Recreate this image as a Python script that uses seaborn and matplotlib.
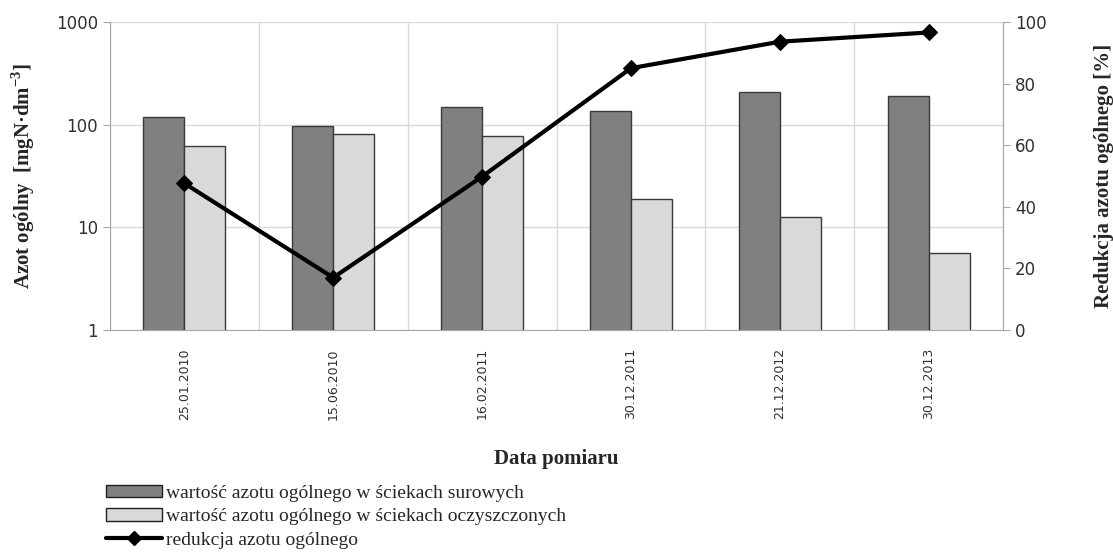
import numpy as np
import pandas as pd
import matplotlib
matplotlib.use("Agg")
import matplotlib.pyplot as plt
from matplotlib.patches import Patch
from matplotlib.lines import Line2D
import seaborn as sns

# Measurement dates
dates = ["25.01.2010", "15.06.2010", "16.02.2011", "30.12.2011", "21.12.2012", "30.12.2013"]
# Total nitrogen in raw sewage [mgN/dm3]
raw_n = [119, 98, 150, 135, 206, 192]
# Total nitrogen in treated sewage [mgN/dm3]
treated_n = [62, 82, 77, 19, 12.5, 5.6]
# Total nitrogen reduction [%]
reduction = [47.6, 17.0, 49.8, 85.0, 93.6, 96.6]

label_raw = "wartość azotu ogólnego w ściekach surowych"
label_treated = "wartość azotu ogólnego w ściekach oczyszczonych"
label_red = "redukcja azotu ogólnego"

sns.set_style("white")
plt.rcParams["font.family"] = ["DejaVu Sans"]

df = pd.DataFrame({
    "data": dates * 2,
    "azot": raw_n + treated_n,
    "seria": [label_raw] * len(dates) + [label_treated] * len(dates),
})

W, H = 1113, 560
fig = plt.figure(figsize=(W / 100, H / 100), dpi=100)
ax = fig.add_axes([110 / W, 1 - 330 / H, 893 / W, 308 / H])

grid_c = "#d9d9d9"
spine_c = "#a6a6a6"
text_c = "#303030"
colors = {label_raw: "#808080", label_treated: "#d9d9d9"}

sns.barplot(data=df, x="data", y="azot", hue="seria", palette=colors,
            width=0.55, edgecolor="#3a3a3a", linewidth=1.0, ax=ax,
            legend=False, zorder=3)
ax.set_yscale("log")
ax.set_ylim(1, 1000)
ax.set_xlim(-0.5, len(dates) - 0.5)
ax.set_yticks([1, 10, 100, 1000], labels=["1", "10", "100", "1000"])
ax.yaxis.set_minor_locator(matplotlib.ticker.NullLocator())
ax.set_xticks(np.arange(len(dates)), labels=dates, rotation=90, fontsize=9)
ax.set_xticks(np.arange(len(dates) + 1) - 0.5, minor=True)
ax.tick_params(axis="x", which="major", length=0, pad=13, labelcolor=text_c)
ax.tick_params(axis="x", which="minor", length=4, color=grid_c)
ax.tick_params(axis="y", which="major", length=5, color=spine_c, labelsize=12,
               labelcolor=text_c, direction="out", left=True)
ax.grid(True, axis="y", which="major", color=grid_c, linewidth=1, zorder=0)
ax.grid(True, axis="x", which="minor", color=grid_c, linewidth=1, zorder=0)
ax.set_axisbelow(True)
for side in ["top", "right"]:
    ax.spines[side].set_visible(False)
ax.spines["left"].set_color(spine_c)
ax.spines["bottom"].set_color(spine_c)

serif = ["Liberation Serif", "DejaVu Serif"]
ax.set_xlabel("Data pomiaru", fontsize=15, fontweight="bold", family=serif)
ax.xaxis.set_label_coords(0.5, -(449 - 330) / 308)
ax.set_ylabel("Azot ogólny  [mgN·dm$^{\\mathregular{-3}}$]", fontsize=15, fontweight="bold",
              family=serif)
ax.yaxis.set_label_coords(-(110 - 37) / 893, 0.5)

ax2 = ax.twinx()
sns.lineplot(x=np.arange(len(dates)), y=reduction, color="black", linewidth=3,
             marker="D", markersize=8, markeredgecolor="black", ax=ax2, zorder=5)
ax2.set_ylim(0, 100)
ax2.set_yticks(np.arange(0, 101, 20))
ax2.tick_params(axis="y", length=5, color=spine_c, labelsize=12, labelcolor=text_c, right=True)
for side in ["top", "left", "bottom"]:
    ax2.spines[side].set_visible(False)
ax2.spines["right"].set_color(spine_c)
ax2.set_ylabel("Redukcja azotu ogólnego [%]", fontsize=15, fontweight="bold", family=serif)
ax2.yaxis.set_label_coords((1094 - 110) / 893, 0.5)

handles = [
    Patch(facecolor=colors[label_raw], edgecolor="#202020", linewidth=1),
    Patch(facecolor=colors[label_treated], edgecolor="#202020", linewidth=1),
    Line2D([], [], color="black", linewidth=3, marker="D", markersize=7),
]
fig.legend(handles, [label_raw, label_treated, label_red], loc="upper left",
           bbox_to_anchor=(106 / W, 1 - 485 / H), frameon=False,
           prop={"family": serif, "size": 14}, handlelength=2.9, handleheight=0.6,
           handletextpad=0.2, labelspacing=0.32, borderaxespad=0, borderpad=0)

fig.savefig("out.png", dpi=100)
